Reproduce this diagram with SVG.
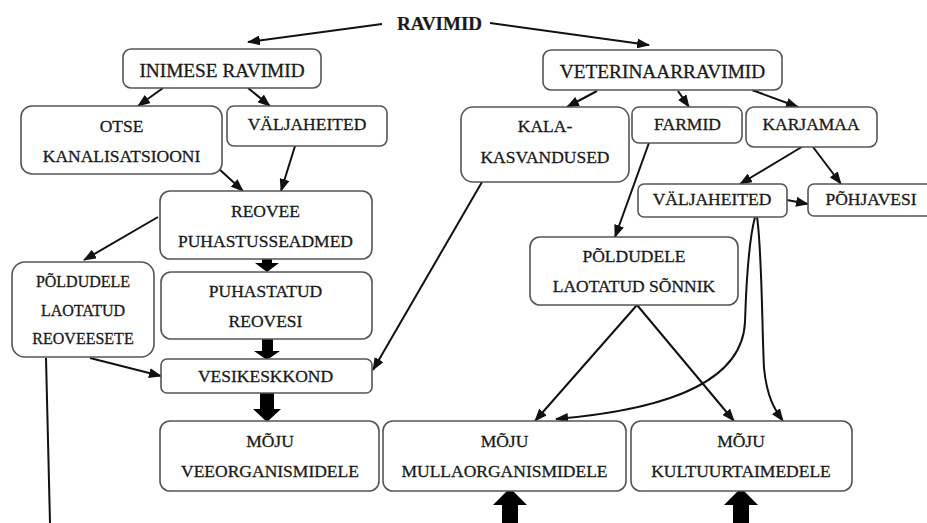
<svg xmlns="http://www.w3.org/2000/svg" width="927" height="523" viewBox="0 0 927 523">
<defs>
<style>
.box{fill:#fff;stroke:#555;stroke-width:1.6}
text{font-family:'Liberation Serif','Times New Roman',serif;fill:#1a1a1a;stroke:#1a1a1a;stroke-width:0.3;text-anchor:middle;font-size:17.5px}
.big{font-size:19.3px}
.sm{font-size:16px}
.title{font-size:19px;font-weight:bold;stroke-width:0.2}
.ln{fill:none;stroke:#111;stroke-width:2}
.blk{fill:#000}
</style>
<marker id="ah" markerUnits="userSpaceOnUse" markerWidth="13" markerHeight="10" refX="12" refY="5" orient="auto">
<path d="M0,0 L13,5 L0,10 z" fill="#111"/>
</marker>
</defs>
<rect width="927" height="523" fill="#fff"/>

<g id="connectors">
<line class="ln" x1="382" y1="24" x2="248" y2="42" marker-end="url(#ah)"/>
<line class="ln" x1="490" y1="23" x2="649" y2="45" marker-end="url(#ah)"/>
<line class="ln" x1="163" y1="88" x2="138" y2="106" marker-end="url(#ah)"/>
<line class="ln" x1="248" y1="88" x2="270" y2="106" marker-end="url(#ah)"/>
<line class="ln" x1="218" y1="168" x2="243" y2="191" marker-end="url(#ah)"/>
<line class="ln" x1="295" y1="146" x2="281" y2="191" marker-end="url(#ah)"/>
<line class="ln" x1="158" y1="217" x2="84" y2="260" marker-end="url(#ah)"/>
<line class="ln" x1="90" y1="358" x2="161" y2="376" marker-end="url(#ah)"/>
<line class="ln" x1="46" y1="358" x2="50" y2="523"/>
<line class="ln" x1="482" y1="182" x2="373" y2="370" marker-end="url(#ah)"/>
<line class="ln" x1="597" y1="91" x2="567" y2="107" marker-end="url(#ah)"/>
<line class="ln" x1="678" y1="91" x2="689" y2="107" marker-end="url(#ah)"/>
<line class="ln" x1="752" y1="90" x2="798" y2="107" marker-end="url(#ah)"/>
<line class="ln" x1="805" y1="145" x2="740" y2="184" marker-end="url(#ah)"/>
<line class="ln" x1="813" y1="147" x2="841" y2="184" marker-end="url(#ah)"/>
<line class="ln" x1="787" y1="200" x2="808" y2="204" marker-end="url(#ah)"/>
<line class="ln" x1="650" y1="140" x2="615" y2="237" marker-end="url(#ah)"/>
<line class="ln" x1="637" y1="305" x2="535" y2="421" marker-end="url(#ah)"/>
<line class="ln" x1="637" y1="305" x2="734" y2="421" marker-end="url(#ah)"/>
<path class="ln" d="M755 217 C749 240 746 290 745 322 C742 392 640 412 556 419" marker-end="url(#ah)"/>
<path class="ln" d="M757 217 C762 250 762 330 764 368 C767 398 775 410 783 421" marker-end="url(#ah)"/>
<polygon class="blk" points="262,258 272,258 272,263 279,263 267,272 255,263 262,263"/>
<polygon class="blk" points="262,339 273,339 273,351 280,351 267,360 254,351 262,351"/>
<polygon class="blk" points="260,393 274,393 274,409 281,409 267,422 253,409 260,409"/>
<polygon class="blk" points="510,488 527,505 518,505 518,523 502,523 502,505 493,505"/>
<polygon class="blk" points="741,488 758,505 749,505 749,523 733,523 733,505 724,505"/>
</g>

<g id="ravimid"><text class="title" x="439.5" y="30">RAVIMID</text></g>

<g id="inimese"><rect class="box" x="123" y="49" width="198" height="39" rx="8"/><text class="big" x="222" y="77">INIMESE RAVIMID</text></g>
<g id="otse"><rect class="box" x="21" y="106" width="201" height="68" rx="11"/><text x="121.5" y="132">OTSE</text><text x="121.5" y="162">KANALISATSIOONI</text></g>
<g id="valjaheited1"><rect class="box" x="227" y="106" width="160" height="40" rx="7"/><text x="307" y="130">VÄLJAHEITED</text></g>
<g id="reovee"><rect class="box" x="160" y="191" width="212" height="68" rx="10"/><text x="265.5" y="217">REOVEE</text><text x="265.5" y="247">PUHASTUSSEADMED</text></g>
<g id="poldudele1"><rect class="box" x="12" y="262" width="142" height="95" rx="13"/><text class="sm" x="83" y="287">PÕLDUDELE</text><text class="sm" x="83" y="316">LAOTATUD</text><text class="sm" x="83" y="344">REOVEESETE</text></g>
<g id="puhastatud"><rect class="box" x="161" y="272" width="211" height="67" rx="10"/><text x="265.5" y="297">PUHASTATUD</text><text x="265.5" y="327">REOVESI</text></g>
<g id="vesikeskkond"><rect class="box" x="161" y="359" width="211" height="34" rx="6"/><text x="265.5" y="382">VESIKESKKOND</text></g>
<g id="moju1"><rect class="box" x="160" y="421" width="219" height="70" rx="10"/><text x="270" y="447">MÕJU</text><text x="270" y="477">VEEORGANISMIDELE</text></g>

<g id="veterinaar"><rect class="box" x="543" y="50" width="239" height="40" rx="8"/><text class="big" x="662.5" y="78">VETERINAARRAVIMID</text></g>
<g id="kala"><rect class="box" x="461" y="107" width="168" height="75" rx="12"/><text x="545" y="132">KALA-</text><text x="545" y="163">KASVANDUSED</text></g>
<g id="farmid"><rect class="box" x="632" y="107" width="110" height="36" rx="7"/><text x="687.5" y="130">FARMID</text></g>
<g id="karjamaa"><rect class="box" x="746" y="107" width="131" height="40" rx="8"/><text x="811" y="130">KARJAMAA</text></g>
<g id="valjaheited2"><rect class="box" x="638" y="184" width="149" height="33" rx="6"/><text x="712" y="205">VÄLJAHEITED</text></g>
<g id="pohjavesi"><rect class="box" x="808" y="184" width="130" height="32" rx="6"/><text x="871" y="205">PÕHJAVESI</text></g>
<g id="poldudele2"><rect class="box" x="530" y="237" width="208" height="68" rx="10"/><text x="634" y="262">PÕLDUDELE</text><text x="634" y="292">LAOTATUD SÕNNIK</text></g>
<g id="moju2"><rect class="box" x="383" y="421" width="243" height="70" rx="10"/><text x="504.5" y="447">MÕJU</text><text x="504.5" y="477">MULLAORGANISMIDELE</text></g>
<g id="moju3"><rect class="box" x="631" y="421" width="221" height="70" rx="10"/><text x="741" y="447">MÕJU</text><text x="741" y="477">KULTUURTAIMEDELE</text></g>
</svg>
